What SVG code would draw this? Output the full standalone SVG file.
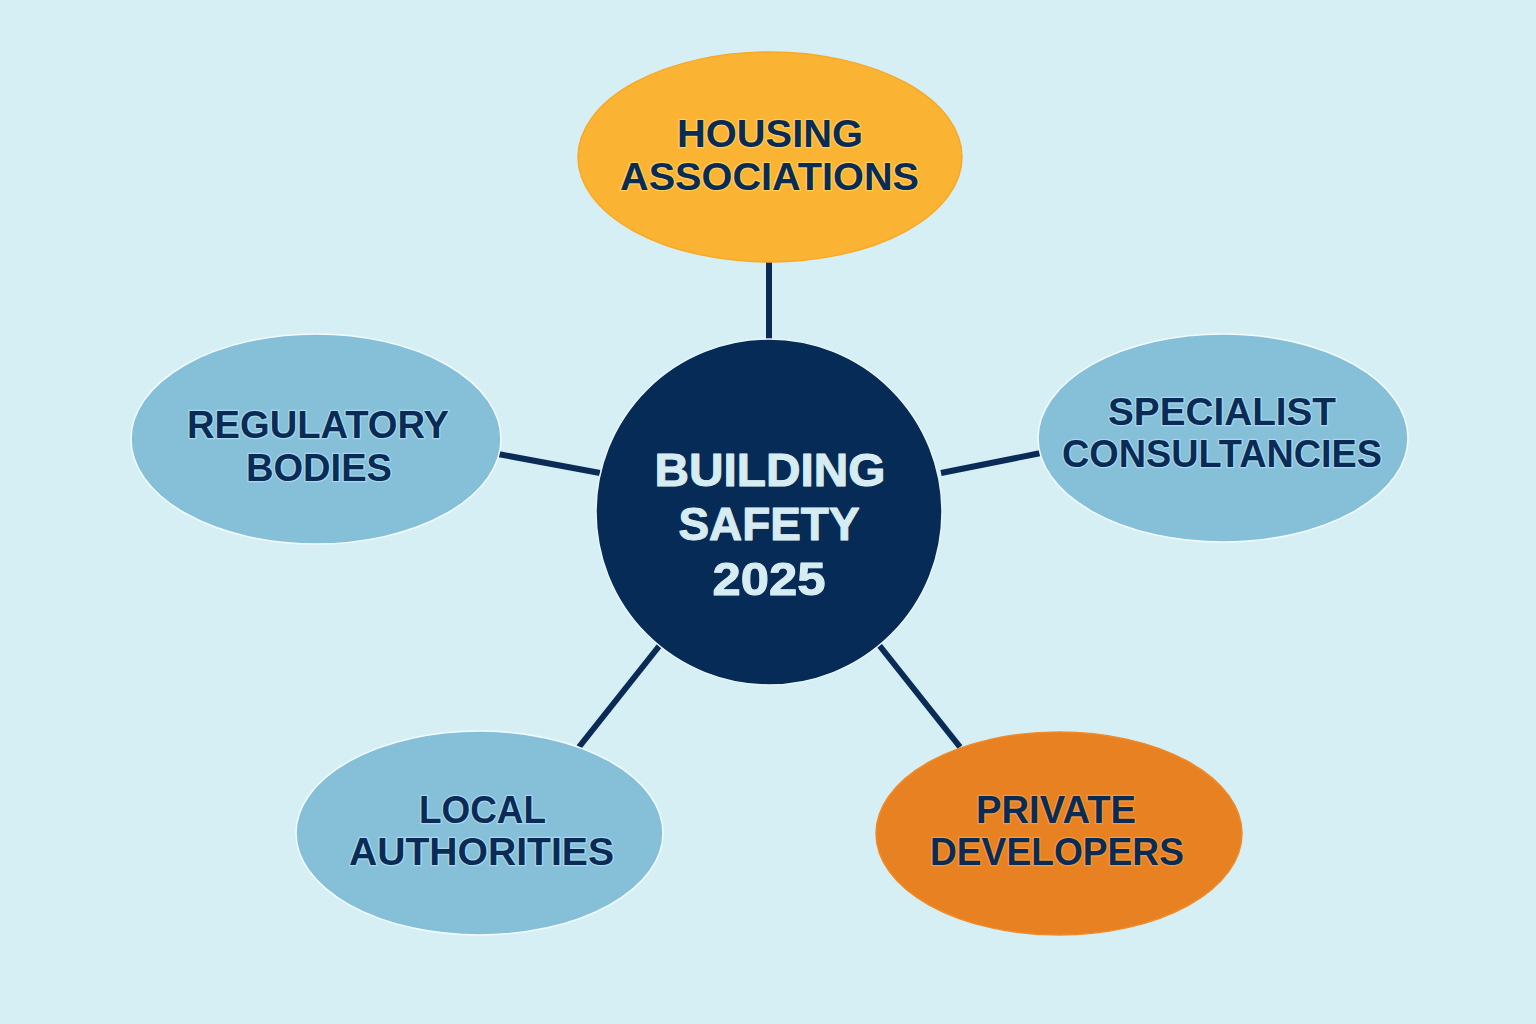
<svg xmlns="http://www.w3.org/2000/svg" width="1536" height="1024" viewBox="0 0 1536 1024">
<style>
.bg{fill:#d6eff4}
.conn line{stroke:#0a2b55;stroke-width:6;stroke-linecap:butt}
.blue{fill:#85c0d8;stroke:#f2fbfd;stroke-width:1.5}
.yellow{fill:#fbb334;stroke:#f7a928;stroke-width:1.5}
.orange{fill:#e88122;stroke:#f08a2a;stroke-width:1.5}
.hub{fill:#052b56;stroke:#e8f6fa;stroke-width:1.5}
.lbl{font-family:"Liberation Sans","DejaVu Sans",sans-serif;font-weight:bold;font-size:38px;fill:#0b2b57;text-anchor:middle;paint-order:stroke;stroke-width:2.5;stroke-linejoin:round}
.lb{stroke:#a8d8ea}
.ly{stroke:#ffcf55}
.lo{stroke:#f59a3a}
.hubt{font-family:"Liberation Sans","DejaVu Sans",sans-serif;font-weight:bold;font-size:47px;fill:#d5ecf2;text-anchor:middle;paint-order:stroke;stroke:#eef9fc;stroke-width:1;stroke-linejoin:round}
</style>
<rect class="bg" x="0" y="0" width="1536" height="1024"/>
<g id="connectors" class="conn">
<line x1="769" y1="262" x2="769" y2="341"/>
<line x1="498" y1="454" x2="600" y2="473"/>
<line x1="941" y1="473" x2="1041" y2="453"/>
<line x1="660" y1="645" x2="579" y2="747"/>
<line x1="879" y1="645" x2="960" y2="747"/>
</g>
<g id="hub">
<circle class="hub" cx="769" cy="512" r="173"/>
<text class="hubt" x="770" y="486" textLength="231" lengthAdjust="spacingAndGlyphs">BUILDING</text>
<text class="hubt" x="769" y="540" textLength="181" lengthAdjust="spacingAndGlyphs">SAFETY</text>
<text class="hubt" x="769" y="595" textLength="113" lengthAdjust="spacingAndGlyphs">2025</text>
</g>
<g id="housing">
<ellipse class="yellow" cx="770" cy="157" rx="192" ry="105"/>
<text class="lbl ly" x="770" y="147" textLength="186" lengthAdjust="spacingAndGlyphs">HOUSING</text>
<text class="lbl ly" x="769.5" y="190" textLength="299" lengthAdjust="spacingAndGlyphs">ASSOCIATIONS</text>
</g>
<g id="regulatory">
<ellipse class="blue" cx="316" cy="439" rx="185" ry="105"/>
<text class="lbl lb" x="318" y="438" textLength="262" lengthAdjust="spacingAndGlyphs">REGULATORY</text>
<text class="lbl lb" x="319" y="481" textLength="146" lengthAdjust="spacingAndGlyphs">BODIES</text>
</g>
<g id="specialist">
<ellipse class="blue" cx="1223" cy="438" rx="185" ry="104"/>
<text class="lbl lb" x="1222" y="425" textLength="228" lengthAdjust="spacingAndGlyphs">SPECIALIST</text>
<text class="lbl lb" x="1222" y="467" textLength="320" lengthAdjust="spacingAndGlyphs">CONSULTANCIES</text>
</g>
<g id="local">
<ellipse class="blue" cx="479.5" cy="833" rx="183.5" ry="102"/>
<text class="lbl lb" x="482.5" y="823" textLength="127" lengthAdjust="spacingAndGlyphs">LOCAL</text>
<text class="lbl lb" x="481.5" y="865" textLength="265" lengthAdjust="spacingAndGlyphs">AUTHORITIES</text>
</g>
<g id="private">
<ellipse class="orange" cx="1059" cy="833.5" rx="183" ry="101.5"/>
<text class="lbl lo" x="1056" y="823" textLength="160" lengthAdjust="spacingAndGlyphs">PRIVATE</text>
<text class="lbl lo" x="1057" y="865" textLength="254" lengthAdjust="spacingAndGlyphs">DEVELOPERS</text>
</g>
</svg>
